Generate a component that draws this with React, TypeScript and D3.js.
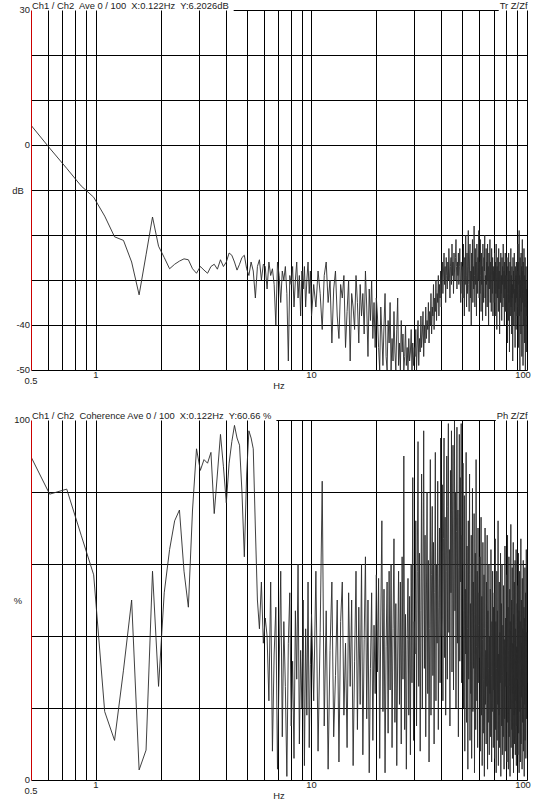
import React, { useEffect, useRef } from 'react';
import * as d3 from 'd3';

const W = 538;
const H = 803;

// FFT bin width (Hz) and index of the first bin kept
const DF = 0.12207;
const FIRST_BIN = 4;

// Tr Z/Zf magnitude, dB — bins 4..50 (0.49 – 6.1 Hz)
const trLow = [
  5.0, -0.7, -5.2, -9.1, -11.6, -15.8, -20.4, -21.2, -26, -33.3,
  -24.4, -16, -22.5, -25, -27.5, -26.5, -25.8, -25.3, -25.5, -27.5,
  -28.5, -27, -27.8, -28.5, -27, -26.5, -27.6, -25.5, -27, -26,
  -24, -24.5, -26, -27.8, -26.5, -25, -24.5, -27.5, -29, -26,
  -28, -34, -27, -25.5, -30, -26.5, -27,
];
// bins 51..82 (6.2 – 10 Hz)
const trMid = [
  -32, -26, -29, -27.5, -31, -40, -26, -29, -35, -28,
  -30, -27, -33, -48, -29, -31, -27, -36, -30, -26,
  -34, -29, -38, -28, -32, -27, -36, -30, -26, -33,
  -28, -38,
];
// 10 – 100 Hz, 41 values per 10 Hz band
const trHigh = [
  -31, -36, -28, -33, -41, -29, -26, -35, -30, -44, -32, -28, -38, -43, -31, -34, -29, -45, -37, -30, -48, -33, -36, -41, -29, -35, -44, -31, -38, -33, -42, -28, -36, -47, -32, -39, -30, -43, -35, -45, -34,
  -38, -45, -50, -36, -42, -49, -40, -33, -47, -50, -39, -44, -35, -50, -43, -48, -37, -46, -50, -41, -34, -49, -44, -50, -39, -46, -42, -50, -47, -40, -49, -45, -50, -43, -48, -46, -41, -50, -44, -49, -45,
  -47, -41, -50, -44, -39, -49, -43, -46, -38, -45, -42, -37, -47, -40, -44, -36, -43, -39, -41, -35, -44, -37, -40, -33, -42, -36, -38, -31, -41, -34, -37, -30, -39, -33, -35, -29, -38, -31, -34, -28, -36,
  -30, -26, -33, -28, -24, -31, -27, -35, -25, -29, -32, -26, -30, -23, -28, -34, -27, -25, -31, -22, -29, -26, -33, -24, -28, -30, -25, -21, -27, -32, -26, -29, -24, -31, -27, -23, -30, -35, -26, -28, -33,
  -27, -34, -22, -30, -38, -25, -31, -20, -29, -36, -24, -33, -27, -19, -31, -37, -26, -22, -34, -28, -40, -24, -30, -21, -35, -27, -32, -18, -29, -36, -23, -31, -26, -38, -22, -28, -33, -25, -30, -19, -34,
  -26, -33, -21, -29, -37, -24, -31, -27, -39, -22, -30, -35, -25, -28, -20, -34, -29, -38, -23, -31, -26, -36, -22, -30, -27, -40, -24, -32, -28, -21, -35, -26, -31, -37, -23, -29, -33, -25, -38, -27, -30,
  -28, -35, -24, -31, -38, -26, -33, -22, -30, -41, -27, -34, -25, -29, -37, -23, -32, -28, -42, -26, -30, -35, -24, -33, -29, -39, -25, -31, -27, -36, -22, -30, -34, -28, -40, -26, -32, -24, -37, -29, -31,
  -29, -37, -25, -33, -44, -27, -31, -39, -24, -35, -28, -46, -30, -26, -38, -32, -23, -36, -29, -42, -27, -34, -31, -48, -25, -33, -28, -40, -30, -24, -37, -32, -45, -27, -35, -29, -41, -26, -34, -30, -38,
  -28, -36, -22, -33, -45, -26, -31, -19, -38, -29, -50, -25, -34, -30, -42, -24, -37, -27, -47, -32, -21, -35, -28, -49, -26, -33, -40, -23, -31, -44, -29, -36, -25, -50, -30, -34, -27, -46, -32, -38, -30,
];

// Coherence, % — same bins
const cohLow = [
  91, 79.4, 80.8, 68, 57, 19, 11, 30.5, 50, 2.8,
  8.3, 58, 26, 52, 64, 72, 75, 58, 48, 75,
  92, 86, 89, 88, 91, 74, 85, 96, 87, 77,
  88, 94, 98.5, 95, 93, 80, 62, 85, 97, 95,
  92, 70, 50, 42, 55, 38, 45,
];
const cohMid = [
  40, 22, 55, 8, 35, 48, 3, 30, 58, 12,
  44, 26, 1, 38, 52, 15, 33, 6, 47, 28,
  60, 10, 36, 20, 50, 4, 42, 18, 55, 9,
  32, 46,
];
const cohHigh = [
  22, 58, 8, 41, 83, 15, 47, 3, 36, 55, 12, 29, 50, 5, 44, 55, 18, 38, 9, 52, 26, 50, 4, 33, 58, 14, 48, 21, 60, 7, 39, 62, 17, 50, 2, 31, 52, 11, 43, 24, 57,
  30, 56, 6, 45, 72, 19, 53, 2, 37, 55, 13, 58, 25, 60, 9, 42, 67, 16, 49, 4, 35, 58, 21, 55, 10, 62, 28, 90, 14, 46, 3, 39, 56, 18, 51, 7, 60, 27, 84, 11, 44,
  35, 72, 15, 58, 94, 26, 63, 8, 47, 85, 20, 55, 97, 31, 68, 12, 50, 80, 24, 61, 5, 42, 89, 18, 57, 76, 29, 66, 10, 52, 91, 22, 60, 38, 83, 14, 48, 70, 27, 95, 40,
  45, 82, 22, 67, 95, 34, 73, 18, 58, 90, 28, 76, 99, 41, 64, 15, 86, 52, 97, 30, 70, 93, 25, 61, 100, 47, 80, 20, 69, 98, 38, 75, 12, 59, 96, 33, 84, 55, 99, 27, 68,
  60, 88, 20, 47, 79, 8, 53, 35, 91, 16, 65, 42, 3, 72, 28, 57, 85, 11, 49, 24, 68, 6, 38, 81, 19, 55, 31, 74, 2, 46, 63, 14, 89, 37, 22, 58, 9, 70, 43, 27, 52,
  34, 62, 8, 45, 73, 18, 51, 4, 39, 66, 13, 28, 57, 1, 42, 70, 21, 36, 10, 55, 26, 68, 3, 47, 16, 31, 60, 7, 40, 24, 53, 12, 64, 29, 5, 44, 19, 58, 33, 9, 48,
  25, 52, 6, 38, 67, 14, 44, 2, 31, 58, 11, 47, 21, 72, 4, 35, 18, 55, 9, 41, 27, 63, 1, 33, 49, 15, 60, 7, 29, 43, 12, 54, 23, 3, 39, 17, 65, 8, 45, 26, 36,
  30, 57, 5, 41, 68, 16, 48, 3, 36, 62, 12, 26, 53, 1, 44, 20, 71, 9, 34, 50, 14, 59, 6, 38, 24, 66, 2, 46, 18, 55, 10, 32, 61, 7, 42, 22, 64, 4, 37, 15, 49,
  28, 54, 7, 40, 63, 13, 47, 2, 35, 58, 19, 44, 5, 31, 67, 10, 50, 23, 38, 3, 56, 16, 42, 26, 61, 8, 33, 48, 1, 45, 21, 59, 11, 37, 52, 6, 30, 64, 17, 41, 27,
];

// grid / tick labels
const gridFreqs = [0.6, 0.7, 0.8, 0.9, 1, 2, 3, 4, 5, 6, 7, 8, 9, 10, 20, 30, 40, 50, 60, 70, 80, 90, 100];
const freqLabels = [
  { f: 1, t: '1' },
  { f: 10, t: '10' },
  { f: 100, t: '100' },
];

const FONT = "'Liberation Sans', Arial, sans-serif";

// build [freq, value] pairs
const toSeries = (low: number[], mid: number[], high: number[]) => {
  const pts: [number, number][] = [];
  low.forEach((v, i) => pts.push([(FIRST_BIN + i) * DF, v]));
  mid.forEach((v, i) => pts.push([(FIRST_BIN + low.length + i) * DF, v]));
  high.forEach((v, i) => pts.push([10 + ((i + 1) * 90) / high.length, v]));
  return pts;
};

const panels = [
  {
    id: 'tr',
    top: 10,
    bottom: 370,
    domain: [-50, 30],
    hTicks: d3.range(-50, 31, 10),
    yLabels: [
      { v: 30, t: '30' },
      { v: 0, t: '0' },
      { v: -40, t: '-40' },
      { v: -50, t: '-50' },
    ],
    unit: { v: -10, t: 'dB' },
    header: 'Ch1 / Ch2  Ave 0 / 100  X:0.122Hz  Y:6.2026dB',
    corner: 'Tr Z/Zf',
    data: toSeries(trLow, trMid, trHigh),
  },
  {
    id: 'coh',
    top: 420,
    bottom: 780,
    domain: [0, 100],
    hTicks: d3.range(0, 101, 20),
    yLabels: [
      { v: 100, t: '100' },
      { v: 0, t: '0' },
    ],
    unit: { v: 50, t: '%' },
    header: 'Ch1 / Ch2  Coherence Ave 0 / 100  X:0.122Hz  Y:60.66 %',
    corner: 'Ph Z/Zf',
    data: toSeries(cohLow, cohMid, cohHigh),
  },
];

const App = () => {
  const ref = useRef<SVGSVGElement>(null);

  useEffect(() => {
    const svg = d3.select(ref.current);
    svg.selectAll('*').remove();

    const x = d3.scaleLog().domain([0.5, 100]).range([31, 527]);
    const px = (f: number) => Math.round(x(f)) + 0.5;
    const left = px(0.5);
    const right = px(100);

    svg.append('rect').attr('width', W).attr('height', H).attr('fill', '#fff');

    panels.forEach((p) => {
      const y = d3.scaleLinear().domain(p.domain).range([p.bottom, p.top]);
      const py = (v: number) => Math.round(y(v)) + 0.5;
      const g = svg.append('g');

      // horizontal grid (top edge drawn later, around the header)
      g.selectAll('.h')
        .data(p.hTicks.filter((v) => v !== p.domain[1]))
        .join('line')
        .attr('x1', left)
        .attr('x2', right)
        .attr('y1', (d) => py(d))
        .attr('y2', (d) => py(d))
        .attr('stroke', '#000')
        .attr('stroke-width', 1);

      // vertical grid
      g.selectAll('.v')
        .data(gridFreqs)
        .join('line')
        .attr('x1', (d) => px(d))
        .attr('x2', (d) => px(d))
        .attr('y1', py(p.domain[1]))
        .attr('y2', py(p.domain[0]))
        .attr('stroke', '#000')
        .attr('stroke-width', 1);

      // trace
      const clipId = `clip-${p.id}`;
      svg.append('clipPath')
        .attr('id', clipId)
        .append('rect')
        .attr('x', left)
        .attr('y', py(p.domain[1]) - 0.5)
        .attr('width', right - left)
        .attr('height', py(p.domain[0]) - py(p.domain[1]) + 1);

      const line = d3.line<[number, number]>()
        .x((d) => x(d[0]))
        .y((d) => y(d[1]));

      g.append('path')
        .attr('d', line(p.data))
        .attr('fill', 'none')
        .attr('stroke', '#2a2a2a')
        .attr('stroke-width', 0.9)
        .attr('clip-path', `url(#${clipId})`);

      // red y axis
      g.append('line')
        .attr('x1', left)
        .attr('x2', left)
        .attr('y1', py(p.domain[1]))
        .attr('y2', py(p.domain[0]))
        .attr('stroke', '#cc0000')
        .attr('stroke-width', 1);

      // header + corner label, top edge between them
      const head = g.append('text')
        .attr('x', 32)
        .attr('y', p.top - 1)
        .style('font-family', FONT)
        .style('font-size', '9.4px')
        .style('fill', '#222')
        .style('white-space', 'pre')
        .text(p.header);
      const corner = g.append('text')
        .attr('x', right)
        .attr('y', p.top - 1)
        .attr('text-anchor', 'end')
        .style('font-family', FONT)
        .style('font-size', '9.4px')
        .style('fill', '#222')
        .text(p.corner);

      const headEnd = 32 + (head.node() as SVGTextElement).getComputedTextLength();
      const cornerStart = right - (corner.node() as SVGTextElement).getComputedTextLength();
      g.append('line')
        .attr('x1', headEnd + 5)
        .attr('x2', cornerStart - 1)
        .attr('y1', py(p.domain[1]))
        .attr('y2', py(p.domain[1]))
        .attr('stroke', '#000')
        .attr('stroke-width', 1);

      // y labels
      g.selectAll('.yl')
        .data(p.yLabels)
        .join('text')
        .attr('x', 30)
        .attr('y', (d) => y(d.v))
        .attr('dy', '0.35em')
        .attr('text-anchor', 'end')
        .style('font-family', FONT)
        .style('font-size', '9.4px')
        .style('fill', '#222')
        .text((d) => d.t);

      g.append('text')
        .attr('x', 18)
        .attr('y', y(p.unit.v) + 1)
        .attr('dy', '0.35em')
        .attr('text-anchor', 'middle')
        .style('font-family', FONT)
        .style('font-size', '9.4px')
        .style('fill', '#222')
        .text(p.unit.t);

      // x labels
      g.append('text')
        .attr('x', 31)
        .attr('y', p.bottom + 11)
        .attr('dy', '0.35em')
        .attr('text-anchor', 'middle')
        .style('font-family', FONT)
        .style('font-size', '9.4px')
        .style('fill', '#222')
        .text('0.5');

      g.selectAll('.xl')
        .data(freqLabels)
        .join('text')
        .attr('x', (d) => Math.min(x(d.f), 523))
        .attr('y', p.bottom + 5)
        .attr('dy', '0.35em')
        .attr('text-anchor', 'middle')
        .style('font-family', FONT)
        .style('font-size', '9.4px')
        .style('fill', '#222')
        .text((d) => d.t);

      g.append('text')
        .attr('x', 279)
        .attr('y', p.bottom + 16)
        .attr('dy', '0.35em')
        .attr('text-anchor', 'middle')
        .style('font-family', FONT)
        .style('font-size', '9.4px')
        .style('fill', '#222')
        .text('Hz');
    });
  }, []);

  return (
    <svg
      ref={ref}
      width={W}
      height={H}
      style={{ position: 'absolute', left: 0, top: 0, display: 'block' }}
    />
  );
};

export default App;
